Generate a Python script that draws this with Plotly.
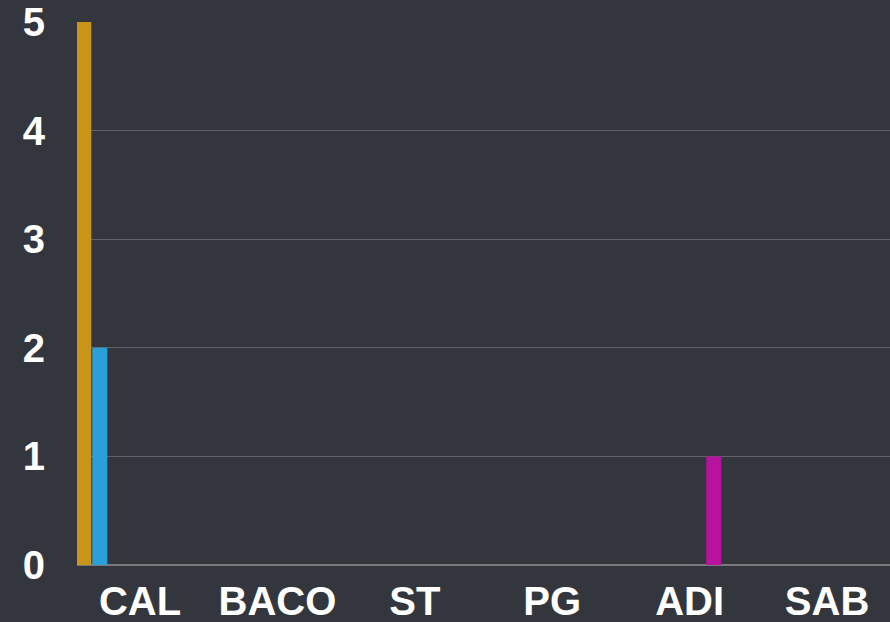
import plotly.graph_objects as go

categories = ["CAL", "BACO", "ST", "PG", "ADI", "SAB"]

series_names = ["Serie 1", "Serie 2", "Serie 3", "Serie 4", "Serie 5", "Serie 6", "Serie 7", "Serie 8"]
series_values = [
    [5, 0, 0, 0, 0, 0],
    [2, 0, 0, 0, 0, 0],
    [0, 0, 0, 0, 0, 0],
    [0, 0, 0, 0, 0, 0],
    [0, 0, 0, 0, 0, 0],
    [0, 0, 0, 0, 1, 0],
    [0, 0, 0, 0, 0, 0],
    [0, 0, 0, 0, 0, 0],
]
series_colors = ["#ca9418", "#2a9fd8", "#6a9f3a", "#d9534f", "#8e6cc4", "#b8139e", "#e07b24", "#20b2aa"]

y_ticks = [0, 1, 2, 3, 4, 5]

BG = "#33363d"
FONT = "Liberation Sans, Arial, sans-serif"

fig = go.Figure()
for name, vals, col in zip(series_names, series_values, series_colors):
    fig.add_trace(go.Bar(x=categories, y=vals, name=name, marker=dict(color=col, line=dict(width=0))))

fig.update_layout(
    width=890, height=622,
    margin=dict(l=77, r=0, t=22, b=57),
    paper_bgcolor=BG, plot_bgcolor=BG,
    barmode="group", bargap=0.064, bargroupgap=0.0625,
    showlegend=False,
    font=dict(family=FONT, color="#ffffff", size=40, weight="bold"),
)
fig.update_xaxes(
    type="category", range=[-0.4585, 5.458],
    showgrid=False, zeroline=False, showline=False, ticks="",
    tickfont=dict(family=FONT, size=40, color="#ffffff", weight="bold"),
    ticklabelstandoff=9,
)
fig.update_yaxes(
    range=[0, 5], tickvals=y_ticks, ticktext=[str(v) for v in y_ticks],
    showgrid=True, gridcolor="#5f6267", gridwidth=1,
    zeroline=True, zerolinecolor="#77797d", zerolinewidth=2,
    showline=False, ticks="",
    tickfont=dict(family=FONT, size=40, color="#ffffff", weight="bold"),
    ticklabelstandoff=31,
)

fig.write_html(
    "out.html",
    config={"displayModeBar": False},
    post_script="document.body.style.margin='0';document.body.style.background='#33363d';document.body.style.overflow='hidden';",
)
